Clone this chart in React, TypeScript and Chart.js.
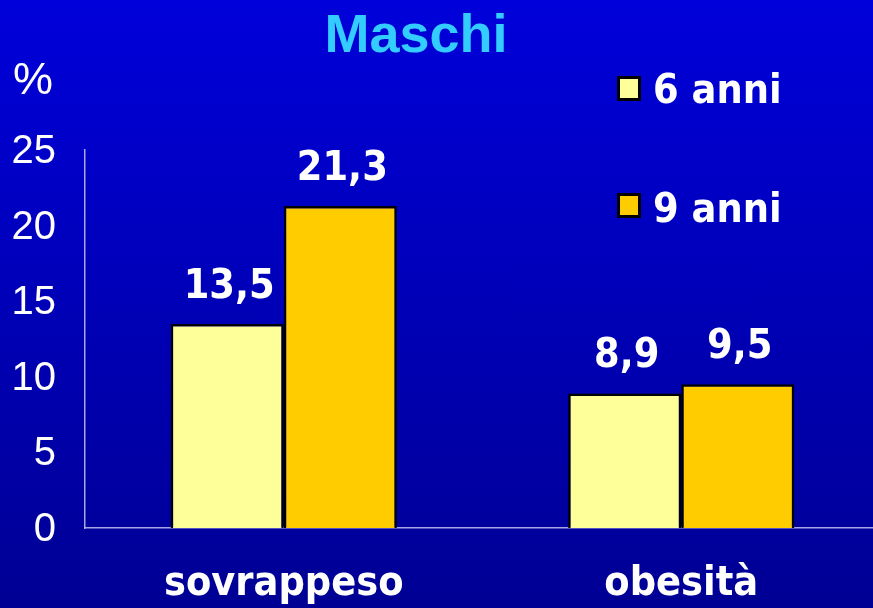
import React, { useEffect, useRef } from "react";
import { Chart, registerables } from "chart.js";

Chart.register(...registerables);

const categories = ["sovrappeso", "obesità"];
const seriesNames = ["6 anni", "9 anni"];
const values6 = [13.5, 8.9];
const values9 = [21.3, 9.5];
const valueLabels6 = ["13,5", "8,9"];
const valueLabels9 = ["21,3", "9,5"];
const yTicks = [0, 5, 10, 15, 20, 25];
const titleText = "Maschi";
const unitText = "%";

const colors = ["#FFFF99", "#FFCC00"];
const BOLD = "'DejaVu Sans Condensed', 'DejaVu Sans', sans-serif";
const REG = "'Liberation Sans', Arial, sans-serif";

const extrasPlugin = {
  id: "extras",
  afterDraw(chart: any) {
    const ctx = chart.ctx;
    ctx.save();
    // title
    ctx.fillStyle = "#33CCFF";
    ctx.font = `bold 54px ${REG}`;
    ctx.textAlign = "center";
    ctx.textBaseline = "alphabetic";
    ctx.fillText(titleText, 416, 52);
    // unit
    ctx.fillStyle = "#FFFFFF";
    ctx.font = `45px ${REG}`;
    ctx.textAlign = "left";
    ctx.fillText(unitText, 13, 94);
    // data labels
    const labelSets = [valueLabels6, valueLabels9];
    ctx.font = `bold 41px ${BOLD}`;
    ctx.textAlign = "center";
    chart.data.datasets.forEach((ds: any, di: number) => {
      const meta = chart.getDatasetMeta(di);
      meta.data.forEach((bar: any, i: number) => {
        ctx.fillStyle = "#FFFFFF";
        ctx.fillText(labelSets[di][i], bar.x + 2, bar.y - 26);
      });
    });
    // legend
    const legendY = [76, 193];
    const textY = [103, 222];
    chart.data.datasets.forEach((ds: any, di: number) => {
      ctx.fillStyle = "#000000";
      ctx.fillRect(617, legendY[di], 24, 25);
      ctx.fillStyle = ds.backgroundColor;
      ctx.fillRect(620, legendY[di] + 3, 18, 19);
      ctx.fillStyle = "#FFFFFF";
      ctx.font = `bold 41px ${BOLD}`;
      ctx.textAlign = "left";
      ctx.fillText(ds.label, 653, textY[di]);
    });
    ctx.restore();
  },
};

export default function App() {
  const ref = useRef<HTMLCanvasElement | null>(null);
  useEffect(() => {
    document.body.style.margin = "0";
    const canvas = ref.current;
    if (!canvas) return;
    const chart = new Chart(canvas, {
      type: "bar",
      data: {
        labels: categories,
        datasets: [
          {
            label: seriesNames[0],
            data: values6,
            backgroundColor: colors[0],
            borderColor: "#000000",
            borderWidth: 2.5,
            categoryPercentage: 0.569,
            barPercentage: 1.0,
          },
          {
            label: seriesNames[1],
            data: values9,
            backgroundColor: colors[1],
            borderColor: "#000000",
            borderWidth: 2.5,
            categoryPercentage: 0.569,
            barPercentage: 1.0,
          },
        ],
      },
      options: {
        responsive: false,
        animation: false,
        devicePixelRatio: 1,
        layout: { padding: { top: 150, left: 0, right: 0, bottom: 0 } },
        plugins: {
          legend: { display: false },
          title: { display: false },
          tooltip: { enabled: false },
        },
        scales: {
          x: {
            grid: { display: false, drawTicks: false },
            border: { display: true, color: "rgba(185,185,235,0.9)", width: 1.5 },
            ticks: {
              color: "#FFFFFF",
              font: { family: BOLD, size: 41, weight: "bold" },
              padding: 32,
              maxRotation: 0,
              autoSkip: false,
            },
            afterFit(scale: any) {
              scale.height = 80;
            },
          },
          y: {
            min: 0,
            max: 25,
            afterBuildTicks(scale: any) {
              scale.ticks = yTicks.map((v) => ({ value: v }));
            },
            grid: { display: false, drawTicks: false },
            border: { display: true, color: "rgba(185,185,235,0.9)", width: 1.5 },
            ticks: {
              color: "#FFFFFF",
              font: { family: REG, size: 40 },
              padding: 29,
              labelOffset: 2,
            },
            afterFit(scale: any) {
              scale.width = 85;
            },
          },
        },
      },
      plugins: [extrasPlugin],
    });
    return () => chart.destroy();
  }, []);
  return (
    <div
      style={{
        position: "fixed",
        left: 0,
        top: 0,
        width: 873,
        height: 608,
        overflow: "hidden",
        background: "linear-gradient(to bottom, #0000DA, #000094)",
      }}
    >
      <canvas ref={ref} width={880} height={608} style={{ display: "block", width: 880, height: 608 }} />
    </div>
  );
}
